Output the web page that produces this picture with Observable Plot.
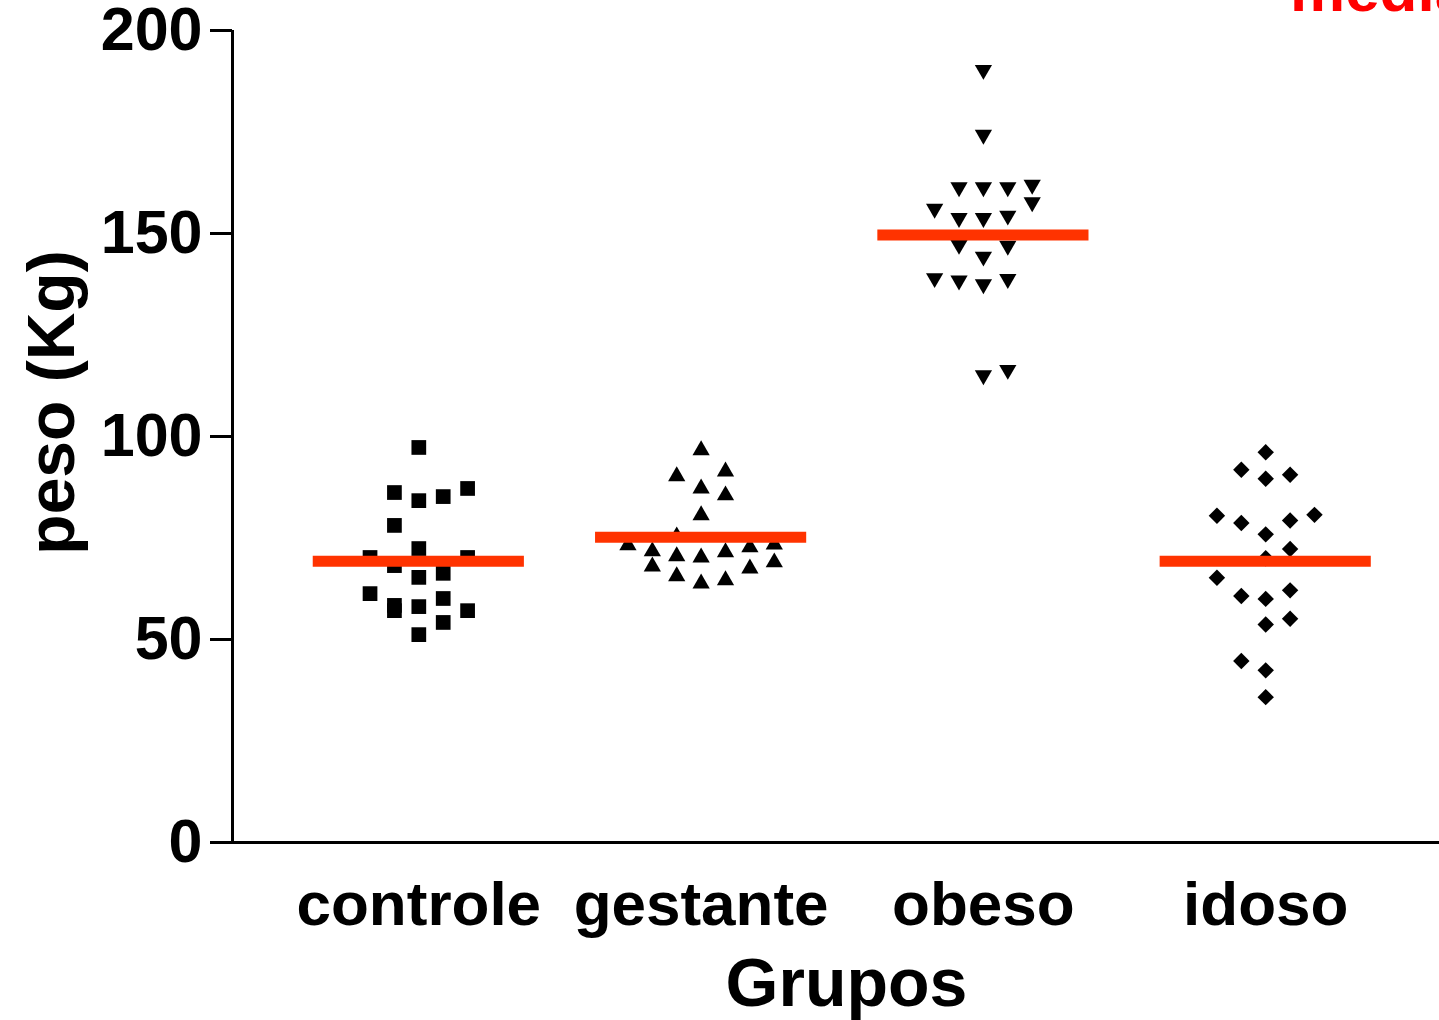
<!DOCTYPE html>
<html><head><meta charset="utf-8">
<script src="https://cdn.jsdelivr.net/npm/d3@7"></script>
<script src="https://cdn.jsdelivr.net/npm/@observablehq/plot@0.6"></script>
<style>
html,body{margin:0;padding:0;overflow:hidden;background:#fff;}
#wrap{position:relative;width:1439px;height:1020px;overflow:hidden;}
#chart{position:absolute;left:0;top:0;width:1460px;}
#chart svg{max-width:none !important;}
#media{position:absolute;left:1290px;top:-41px;font:bold 62px "Liberation Sans",Arial,sans-serif;color:#ff0000;line-height:1;white-space:nowrap;}
</style></head><body>
<div id="wrap"><div id="chart"></div><div id="media">media</div></div>
<script>
// Categories
const grupos = ["controle", "gestante", "obeso", "idoso"];
const controleValores = [97.3, 86.2, 84.2, 85.2, 87.2, 78.1, 72.4, 70.2, 70.2, 68.2, 65.3, 66.3, 61.3, 60.1, 58.4, 57.1, 58.1, 57.1, 54.2, 51.2];
const controleColunas = [0, -1, 0, 1, 2, -1, 0, -2, 2, -1, 0, 1, -2, 1, -1, -1, 0, 2, 1, 0];
const gestanteValores = [96.6, 90.2, 91.4, 87.2, 85.5, 80.6, 75.4, 73.2, 71.7, 70.5, 70.2, 71.5, 72.7, 73.4, 68.0, 65.6, 63.8, 64.6, 67.5, 69.0];
const gestanteColunas = [0, -1, 1, 0, 1, 0, -1, -3, -2, -1, 0, 1, 2, 3, -2, -1, 0, 1, 2, 3];
const obesoValores = [190.3, 174.3, 161.4, 161.4, 161.4, 162.0, 157.7, 156.1, 153.8, 153.8, 154.4, 147.2, 147.0, 144.3, 139.0, 138.4, 137.5, 138.8, 115.1, 116.4];
const obesoColunas = [0, 0, -1, 0, 1, 2, 2, -2, -1, 0, 1, -1, 1, 0, -2, -1, 0, 1, 0, 1];
const idosoValores = [96.1, 91.8, 89.6, 90.6, 80.5, 78.7, 79.3, 80.7, 75.9, 72.3, 70.0, 65.2, 60.7, 60.0, 62.1, 53.7, 55.1, 44.7, 42.4, 35.8];
const idosoColunas = [0, -1, 0, 1, -2, -1, 1, 2, 0, 1, 0, -2, -1, 0, 1, 0, 1, -1, 0, 0];
// Group means (red bars)
const medias = [69.3, 75.2, 149.6, 69.3];
// Axis ticks and labels
const yTicks = [0, 50, 100, 150, 200];
const yLabel = "peso (Kg)";
const xLabel = "Grupos";

const valores = [controleValores, gestanteValores, obesoValores, idosoValores];
const colunas = [controleColunas, gestanteColunas, obesoColunas, idosoColunas];
const simbolos = ["square", "triangle", "triangle", "diamond2"];
const rotacoes = [0, 0, 180, 0];
const raios = [8.3, 6.4, 6.4, 7.4];
const passoColuna = 0.0864;
const xDominio = [-0.66, 3.69];
const meiaLargura = 0.374;

const pontos = grupos.flatMap((g, i) => valores[i].map((v, j) => ({grupo: g, gi: i, peso: v, coluna: colunas[i][j]})));
const mediaRows = grupos.map((g, i) => ({grupo: g, gi: i, media: medias[i]}));

const font = "Liberation Sans, Arial, Helvetica, sans-serif";

const chart = Plot.plot({
  width: 1460,
  height: 1020,
  marginLeft: 232,
  marginRight: 0,
  marginTop: 30,
  marginBottom: 178,
  style: {fontFamily: font, background: "white", color: "black", maxWidth: "none"},
  x: {type: "linear", domain: xDominio},
  y: {domain: [0, 200]},
  marks: [
    Plot.axisY({ticks: yTicks, tickSize: 22, tickPadding: 8, fontSize: 61, fontWeight: "bold", strokeWidth: 3, label: null, fill: "black"}),
    Plot.axisX({ticks: [0, 1, 2, 3], tickFormat: i => grupos[i], tickSize: 0, tickPadding: 38, fontSize: 62, fontWeight: "bold", label: null, fill: "black"}),
    Plot.ruleY([0], {strokeWidth: 3, stroke: "black"}),
    Plot.ruleX([xDominio[0]], {strokeWidth: 3, stroke: "black"}),
    ...grupos.map((g, i) => Plot.dot(pontos.filter(d => d.gi === i), {
      x: d => d.gi + d.coluna * passoColuna,
      y: "peso",
      symbol: simbolos[i],
      r: raios[i],
      rotate: rotacoes[i],
      fill: "black",
      stroke: "none"
    })),
    Plot.ruleY(mediaRows, {y: "media", x1: d => d.gi - meiaLargura, x2: d => d.gi + meiaLargura, stroke: "#ff3300", strokeWidth: 11}),
    Plot.text([yLabel], {frameAnchor: "left", textAnchor: "middle", text: d => d, rotate: -90, dx: -180, dy: -34, fontSize: 66, fontWeight: "bold", fill: "black"}),
    Plot.text([xLabel], {frameAnchor: "bottom", text: d => d, lineAnchor: "top", dy: 115, fontSize: 68, fontWeight: "bold", fill: "black"})
  ]
});
document.getElementById("chart").appendChild(chart);
</script>
</body></html>
